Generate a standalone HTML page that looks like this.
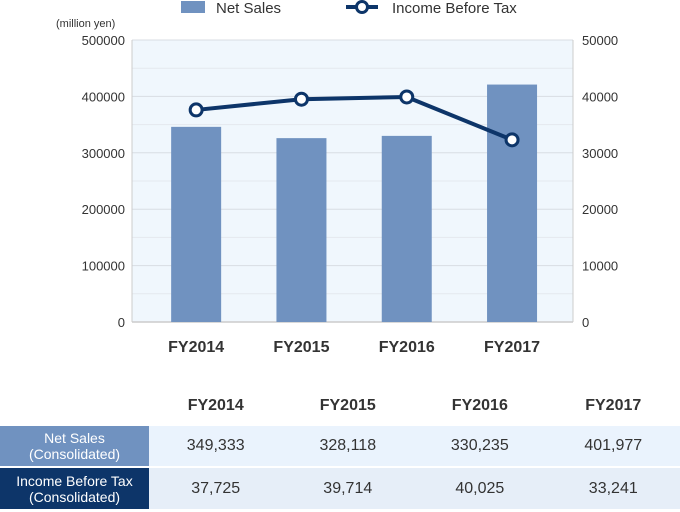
<!DOCTYPE html>
<html><head><meta charset="utf-8"><style>
body{margin:0;width:680px;height:512px;background:#fff;font-family:"Liberation Sans",sans-serif;overflow:hidden;position:relative}
table{position:absolute;left:0;top:386px;border-collapse:collapse;width:680px}
td,th{padding:0;text-align:center;color:#333}
th{font-size:16px;font-weight:bold;height:40px}
td.lab{color:#fff;font-size:14px;line-height:16px;width:149px}
td.v{font-size:16px}
</style></head><body>
<svg id="chart" width="680" height="386" style="position:absolute;left:0;top:0" font-family="Liberation Sans, sans-serif"></svg>
<table>
<tr><th style="width:149px"></th><th>FY2014</th><th>FY2015</th><th>FY2016</th><th>FY2017</th></tr>
<tr style="background:#eaf3fd;height:41px;border-bottom:2px solid #fff"><td class="lab" style="background:#7092c0">Net Sales<br>(Consolidated)</td><td class="v">349,333</td><td class="v">328,118</td><td class="v">330,235</td><td class="v">401,977</td></tr>
<tr style="background:#e6eef8;height:42px"><td class="lab" style="background:#0d3569">Income Before Tax<br>(Consolidated)</td><td class="v">37,725</td><td class="v">39,714</td><td class="v">40,025</td><td class="v">33,241</td></tr>
</table>
<script>
const categories=["FY2014","FY2015","FY2016","FY2017"];
const netSales=[346000,326000,330000,421000];
const incomeBeforeTax=[37600,39500,39900,32300];
const leftTicks=[0,100000,200000,300000,400000,500000];
const rightTicks=[0,10000,20000,30000,40000,50000];
const svg=document.getElementById('chart');const NS='http://www.w3.org/2000/svg';
function mk(t,a,p){const e=document.createElementNS(NS,t);for(const k in a)e.setAttribute(k,a[k]);(p||svg).appendChild(e);return e;}
const L=132,R=573,T=40,B=322,x0=143.5,band=105.3;
const yL=v=>B-(v/500000)*(B-T), yR=v=>B-(v/50000)*(B-T), xc=i=>x0+band*(i+0.5);
let bg=mk('rect',{x:L,y:T,width:R-L,height:B-T,fill:'#f0f7fd'});


for(let v=50000;v<=500000;v+=50000){let g=mk('line',{x1:L,x2:R,y1:yL(v),y2:yL(v),stroke:v%100000?'#e4e9ee':'#d8dde3','stroke-width':1});

}
mk('line',{x1:L,x2:L,y1:T,y2:B,stroke:'#ccc'});mk('line',{x1:R,x2:R,y1:T,y2:B,stroke:'#ccc'});mk('line',{x1:L,x2:R,y1:B,y2:B,stroke:'#ccc','stroke-width':1.5});
leftTicks.forEach(v=>{let t=mk('text',{x:125,y:yL(v)+5,'text-anchor':'end','font-size':13,fill:'#333'});t.textContent=v;

});
rightTicks.forEach(v=>{let t=mk('text',{x:582,y:yR(v)+5,'font-size':13,fill:'#333'});t.textContent=v;

});
netSales.forEach((v,i)=>{let b=mk('rect',{x:xc(i)-25,y:yL(v),width:50,height:B-yL(v),fill:'#7092c0'});


let t=mk('text',{x:xc(i),y:352,'text-anchor':'middle','font-size':16,'font-weight':'bold',fill:'#333'});t.textContent=categories[i];

});
let pl=mk('polyline',{points:incomeBeforeTax.map((v,i)=>xc(i)+','+yR(v)).join(' '),fill:'none',stroke:'#0d3569','stroke-width':4});


incomeBeforeTax.forEach((v,i)=>{let c=mk('circle',{cx:xc(i),cy:yR(v),r:6,fill:'#fff',stroke:'#0d3569','stroke-width':3});

});
let u=mk('text',{x:56,y:27,'font-size':11,fill:'#333'});u.textContent='(million yen)';


let lg=mk('g',{});


mk('rect',{x:181,y:1,width:24,height:12,fill:'#7092c0'},lg);
let t1=mk('text',{x:216,y:13,'font-size':15,fill:'#333'},lg);t1.textContent='Net Sales';
mk('line',{x1:346,x2:378,y1:7,y2:7,stroke:'#0d3569','stroke-width':4},lg);
mk('circle',{cx:362,cy:7,r:5.5,fill:'#fff',stroke:'#0d3569','stroke-width':3},lg);
let t2=mk('text',{x:392,y:13,'font-size':15,fill:'#333'},lg);t2.textContent='Income Before Tax';
</script>
</body></html>
